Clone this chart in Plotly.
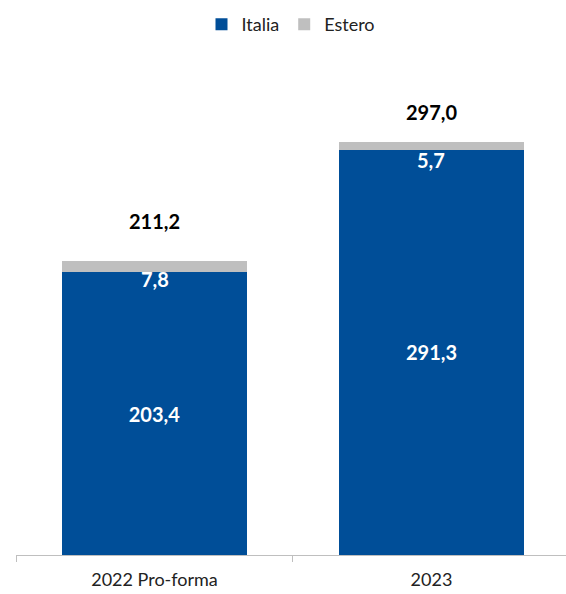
import plotly.graph_objects as go

categories = ["2022 Pro-forma", "2023"]
italia = [203.4, 291.3]
estero = [7.8, 5.7]
totals = [211.2, 297.0]

def fmt(v):
    return f"{v:.1f}".replace(".", ",")

BLUE = "#004E98"
GRAY = "#BFBFBF"
FONT = "Lato, 'Open Sans', sans-serif"

fig = go.Figure()
fig.add_trace(go.Bar(
    x=categories, y=italia, name="Italia", marker=dict(color=BLUE, line=dict(width=0)),
    text=[fmt(v) for v in italia], textposition="inside", insidetextanchor="middle",
    textfont=dict(color="white", size=20, family=FONT, weight="bold"),
    hoverinfo="skip",
))
fig.add_trace(go.Bar(
    x=categories, y=estero, name="Estero", marker=dict(color=GRAY, line=dict(width=0)),
    hoverinfo="skip",
))

# Estero value labels (placed just below the gray segment)
for i, (e, t) in enumerate(zip(estero, totals)):
    fig.add_annotation(x=i, y=t, text=f"<b>{fmt(e)}</b>", showarrow=False,
                       yanchor="middle", yshift=-18,
                       font=dict(color="white", size=20, family=FONT))

# Totals above bars
tot_shift = [40, 30]
for i, (t, s) in enumerate(zip(totals, tot_shift)):
    fig.add_annotation(x=i, y=t, text=f"<b>{fmt(t)}</b>", showarrow=False,
                       yanchor="middle", yshift=s,
                       font=dict(color="black", size=20, family=FONT))

fig.update_layout(
    width=566, height=594,
    barmode="stack", bargap=0.33,
    plot_bgcolor="white", paper_bgcolor="white",
    margin=dict(l=16, r=0, t=60, b=39),
    font=dict(family=FONT, size=16, color="#222222"),
    uniformtext=dict(minsize=10, mode="show"),
    legend=dict(orientation="h", x=0.5, xanchor="center", y=0.99, yref="container",
                yanchor="top", font=dict(size=18, color="#222222"),
                itemwidth=30, traceorder="normal", tracegroupgap=0),
    showlegend=True,
)
fig.update_xaxes(
    type="category", range=[-0.5, 1.4856], tickson="boundaries",
    ticks="outside", ticklen=6, tickcolor="#BFBFBF",
    showline=True, linecolor="#BFBFBF", linewidth=1,
    tickfont=dict(size=18, color="#222222"), ticklabelstandoff=8,
    showgrid=False, fixedrange=True,
)
fig.update_yaxes(range=[0, 356], visible=False, showgrid=False, fixedrange=True)

fig.write_html("out.html")
